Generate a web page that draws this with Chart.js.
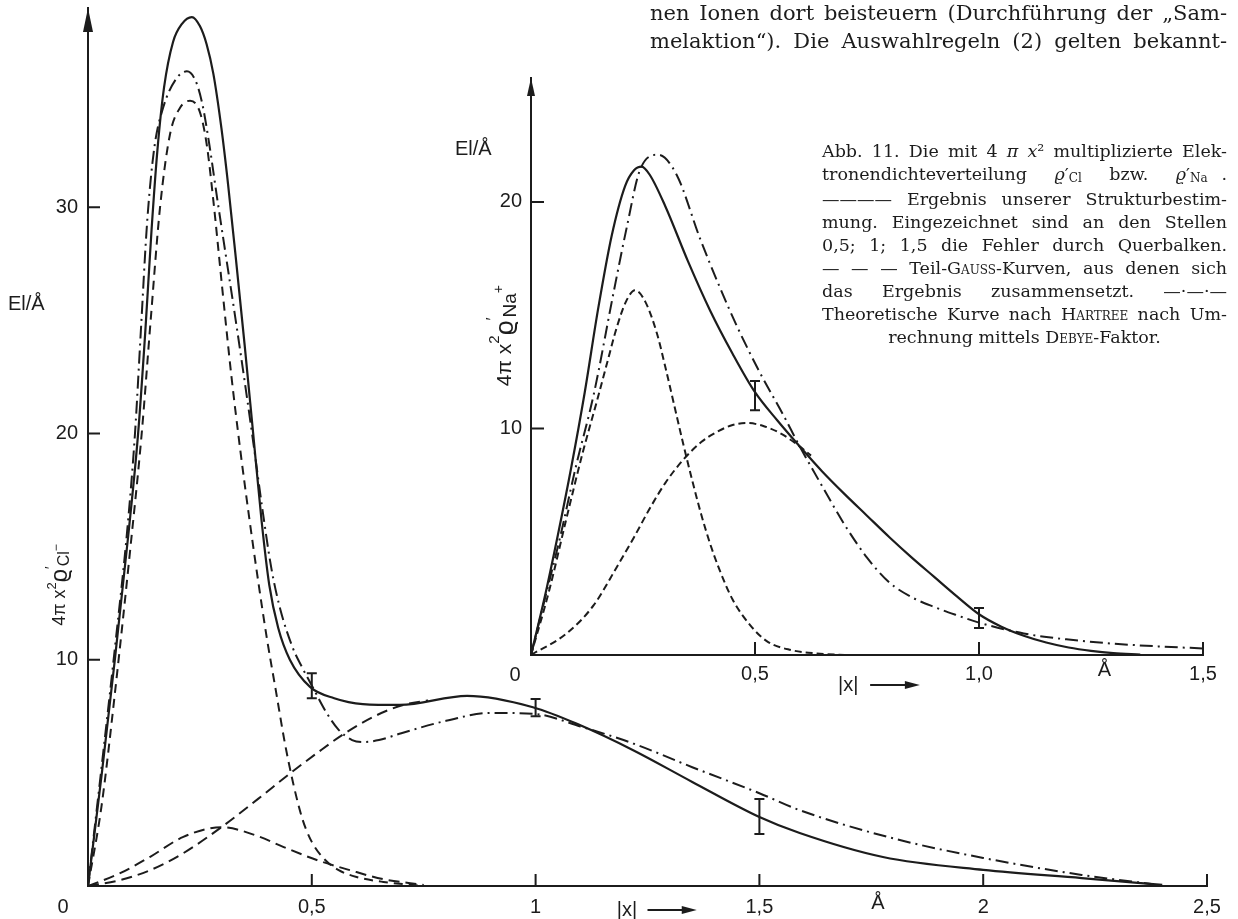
<!DOCTYPE html>
<html>
<head>
<meta charset="utf-8">
<script src="https://cdn.jsdelivr.net/npm/chart.js@4.4.0/dist/chart.umd.min.js"></script>
<style>
html, body { margin: 0; padding: 0; background: #fff; width: 1238px; height: 919px; overflow: hidden; }
#main { position: absolute; left: 0; top: 0; }
#inset { position: absolute; left: 431px; top: 60px; }
.txt { position: absolute; font-family: "DejaVu Serif", "Liberation Serif", serif; color: #1c1c1c; }
.txt div { text-align: justify; text-align-last: justify; white-space: nowrap; }
.sc { font-variant: small-caps; }
.sub { font-size: 12px; position: relative; top: 2px; }
</style>
</head>
<body>
<canvas id="main" width="1238" height="919"></canvas>
<canvas id="inset" width="800" height="640"></canvas>

<div class="txt" style="left:650px; top:-1px; width:577px; font-size:21px; line-height:28px;">
  <div>nen Ionen dort beisteuern (Durchführung der „Sam-</div>
  <div>melaktion“). Die Auswahlregeln (2) gelten bekannt-</div>
</div>

<div class="txt" style="left:822px; top:140px; width:405px; font-size:17.5px; line-height:23px;">
  <div>Abb. 11. Die mit 4 <i>π x</i>² multiplizierte Elek-</div>
  <div>tronendichteverteilung &nbsp;<i>ϱ</i>′<span class="sub">Cl</span> &nbsp;bzw. &nbsp;<i>ϱ</i>′<span class="sub">Na</span> .</div>
  <div>———— Ergebnis unserer Strukturbestim-</div>
  <div>mung. Eingezeichnet sind an den Stellen</div>
  <div>0,5; 1; 1,5 die Fehler durch Querbalken.</div>
  <div>— — — Teil-<span class="sc">Gauss</span>-Kurven, aus denen sich</div>
  <div>das Ergebnis zusammensetzt. —·—·—</div>
  <div>Theoretische Kurve nach <span class="sc">Hartree</span> nach Um-</div>
  <div style="text-align:center; text-align-last:center;">rechnung mittels <span class="sc">Debye</span>-Faktor.</div>
</div>

<script>
// ---- Cl- (large chart) ----
const clResultX = [0, 0.031, 0.06, 0.09, 0.112, 0.128, 0.142, 0.155, 0.17, 0.19, 0.21, 0.232, 0.25, 0.265, 0.28, 0.298, 0.313, 0.33, 0.35, 0.369, 0.388, 0.405, 0.425, 0.451, 0.496, 0.55, 0.614, 0.697, 0.847, 0.994, 1.1, 1.218, 1.35, 1.5, 1.59, 1.776, 2.0, 2.22, 2.4];
const clResultY = [0, 5, 10, 15.5, 20, 24.5, 29, 32.5, 35.3, 37.3, 38.1, 38.4, 38.0, 37.2, 35.9, 33.5, 31.0, 27.8, 23.9, 20.0, 16.1, 13.3, 11.4, 10.0, 8.8, 8.3, 8.04, 8.0, 8.4, 7.9, 7.1, 6.0, 4.6, 3.05, 2.34, 1.28, 0.71, 0.35, 0.05];

const clHartreeX = [0, 0.03, 0.06, 0.088, 0.105, 0.118, 0.132, 0.148, 0.168, 0.198, 0.221, 0.24, 0.255, 0.27, 0.29, 0.31, 0.33, 0.35, 0.37, 0.39, 0.41, 0.43, 0.458, 0.48, 0.503, 0.53, 0.56, 0.59, 0.614, 0.65, 0.7, 0.8, 0.9, 1.0, 1.1, 1.218, 1.35, 1.5, 1.59, 1.8, 2.0, 2.22, 2.38];
const clHartreeY = [0, 5.2, 10.5, 15.8, 20, 24.5, 29.3, 32.6, 34.4, 35.7, 36.0, 35.6, 34.6, 32.9, 30.2, 27.6, 25.0, 22.3, 19.5, 16.6, 14.0, 12.2, 10.5, 9.6, 8.75, 7.75, 6.9, 6.45, 6.36, 6.45, 6.75, 7.3, 7.65, 7.6, 7.05, 6.3, 5.25, 4.1, 3.35, 2.1, 1.24, 0.49, 0.08];

const clGaussAX = [0, 0.03, 0.06, 0.095, 0.12, 0.14, 0.161, 0.183, 0.206, 0.228, 0.25, 0.265, 0.28, 0.3, 0.32, 0.34, 0.36, 0.38, 0.4, 0.42, 0.44, 0.46, 0.48, 0.5, 0.53, 0.56, 0.6, 0.66, 0.75];
const clGaussAY = [0, 3.5, 8.5, 15, 20, 25, 30, 33.2, 34.4, 34.7, 34.2, 32.8, 30.3, 26.4, 22.6, 19.3, 16.3, 13.5, 10.9, 8.6, 6.3, 4.4, 2.9, 1.95, 1.15, 0.7, 0.4, 0.18, 0];

const clGaussBX = [0, 0.07, 0.139, 0.213, 0.298, 0.38, 0.436, 0.511, 0.585, 0.66, 0.75];
const clGaussBY = [0, 0.55, 1.29, 2.17, 2.6, 2.2, 1.73, 1.15, 0.7, 0.3, 0.05];

const clGaussCX = [0, 0.07, 0.139, 0.213, 0.298, 0.38, 0.451, 0.51, 0.57, 0.64, 0.704, 0.76];
const clGaussCY = [0, 0.25, 0.7, 1.45, 2.6, 3.85, 4.97, 5.85, 6.7, 7.5, 8.0, 8.2];

const clErrX = [0.5, 1, 1.5];
const clErrLow = [8.3, 7.5, 2.3];
const clErrHigh = [9.4, 8.26, 3.84];

const mainXTicks = [0.5, 1, 1.5, 2, 2.5];
const mainYTicks = [10, 20, 30];

// ---- Na+ (inset) ----
const naResultX = [0, 0.03, 0.06, 0.09, 0.12, 0.15, 0.18, 0.21, 0.23, 0.247, 0.265, 0.3, 0.35, 0.4, 0.45, 0.5, 0.55, 0.6, 0.65, 0.7, 0.75, 0.8, 0.85, 0.9, 0.95, 1.0, 1.05, 1.1, 1.15, 1.2, 1.25, 1.3, 1.36];
const naResultY = [0, 2.5, 5.3, 8.3, 11.6, 15.3, 18.5, 20.7, 21.4, 21.56, 21.2, 19.8, 17.4, 15.2, 13.3, 11.6, 10.35, 9.2, 8.1, 7.1, 6.15, 5.2, 4.3, 3.45, 2.6, 1.8, 1.25, 0.85, 0.55, 0.33, 0.18, 0.08, 0.02];

const naHartreeX = [0, 0.03, 0.065, 0.1, 0.14, 0.184, 0.214, 0.243, 0.284, 0.325, 0.377, 0.42, 0.46, 0.51, 0.563, 0.6, 0.65, 0.7, 0.75, 0.8, 0.85, 0.9, 0.95, 1.0, 1.1, 1.2, 1.3, 1.4, 1.5];
const naHartreeY = [0, 2.4, 5.2, 8.3, 11.5, 15.97, 18.9, 21.4, 22.08, 21.2, 18.4, 16.3, 14.5, 12.5, 10.6, 9.2, 7.45, 5.75, 4.3, 3.2, 2.55, 2.12, 1.76, 1.43, 0.95, 0.68, 0.5, 0.38, 0.29];

const naGaussAX = [0, 0.04, 0.08, 0.115, 0.147, 0.17, 0.192, 0.212, 0.232, 0.255, 0.281, 0.3, 0.32, 0.34, 0.36, 0.38, 0.4, 0.42, 0.45, 0.49, 0.527, 0.58, 0.638, 0.7];
const naGaussAY = [0, 2.8, 6.1, 8.9, 11.2, 12.9, 14.5, 15.6, 16.1, 15.6, 14.2, 12.7, 11.0, 9.3, 7.7, 6.2, 4.9, 3.8, 2.45, 1.3, 0.6, 0.22, 0.07, 0];

const naGaussBX = [0, 0.08, 0.14, 0.192, 0.23, 0.266, 0.3, 0.339, 0.38, 0.415, 0.45, 0.482, 0.52, 0.56, 0.6, 0.625];
const naGaussBY = [0, 0.96, 2.2, 3.9, 5.2, 6.5, 7.6, 8.6, 9.4, 9.85, 10.15, 10.24, 10.1, 9.75, 9.2, 8.8];

const naErrX = [0.5, 1.0];
const naErrLow = [10.8, 1.19];
const naErrHigh = [12.1, 2.07];

const insetXTicks = [0.5, 1.0, 1.5];
const insetYTicks = [10, 20];

const INK = '#1c1c1c';
const LETTER = '"Liberation Sans", Arial, sans-serif';
Chart.defaults.font.family = LETTER;
Chart.defaults.color = INK;

const pts = (xs, ys) => xs.map((x, i) => ({ x: x, y: ys[i] }));

function curve(xs, ys, dash, width) {
    return {
        data: pts(xs, ys),
        showLine: true,
        borderColor: INK,
        borderWidth: width || 2,
        borderDash: dash || [],
        pointRadius: 0,
        cubicInterpolationMode: 'monotone',
        fill: false,
    };
}

// rotated formula label, parts = [text, size, dy]
function richVertical(ctx, cx, cy, parts) {
    ctx.save();
    ctx.translate(cx, cy);
    ctx.rotate(-Math.PI / 2);
    ctx.textBaseline = 'middle';
    ctx.textAlign = 'left';
    let w = 0;
    parts.forEach(p => { ctx.font = p[1] + 'px ' + LETTER; w += ctx.measureText(p[0]).width; });
    let xx = -w / 2;
    parts.forEach(p => {
        ctx.font = p[1] + 'px ' + LETTER;
        ctx.fillText(p[0], xx, p[2]);
        xx += ctx.measureText(p[0]).width;
    });
    ctx.restore();
}

function arrowRight(ctx, x1, x2, yy) {
    ctx.beginPath();
    ctx.moveTo(x1, yy);
    ctx.lineTo(x2 - 12, yy);
    ctx.stroke();
    ctx.beginPath();
    ctx.moveTo(x2, yy);
    ctx.lineTo(x2 - 15, yy - 4);
    ctx.lineTo(x2 - 15, yy + 4);
    ctx.closePath();
    ctx.fill();
}

// ticks inside the axes, y arrow, error bars and loose labels
function decor(o) {
    return {
        id: 'decor',
        afterDatasetsDraw(chart) {
            const { ctx, chartArea: a, scales: { x, y } } = chart;
            ctx.save();
            ctx.strokeStyle = INK;
            ctx.fillStyle = INK;
            ctx.lineWidth = 2;

            ctx.beginPath();
            x.ticks.forEach(t => {
                const px = x.getPixelForValue(t.value);
                ctx.moveTo(px, a.bottom);
                ctx.lineTo(px, a.bottom - o.tick);
            });
            y.ticks.forEach(t => {
                const py = y.getPixelForValue(t.value);
                ctx.moveTo(a.left - 1, py);
                ctx.lineTo(a.left + o.tick, py);
            });
            ctx.stroke();

            ctx.beginPath();
            ctx.moveTo(a.left, a.top);
            ctx.lineTo(a.left - o.aw, a.top + o.al);
            ctx.lineTo(a.left + o.aw, a.top + o.al);
            ctx.closePath();
            ctx.fill();

            o.errX.forEach((v, i) => {
                const px = x.getPixelForValue(v);
                const lo = y.getPixelForValue(o.errLow[i]);
                const hi = y.getPixelForValue(o.errHigh[i]);
                ctx.beginPath();
                ctx.moveTo(px, lo); ctx.lineTo(px, hi);
                ctx.moveTo(px - 5, lo); ctx.lineTo(px + 5, lo);
                ctx.moveTo(px - 5, hi); ctx.lineTo(px + 5, hi);
                ctx.stroke();
            });

            ctx.font = '20px ' + LETTER;
            ctx.textBaseline = 'middle';
            ctx.textAlign = 'center';
            ctx.fillText('0', a.left + o.zeroDx, a.bottom + o.zeroDy);
            ctx.fillText('Å', x.getPixelForValue(o.unitX), a.bottom + o.unitDy);
            ctx.textAlign = 'left';
            ctx.fillText('El/Å', a.left + o.elDx, y.getPixelForValue(o.elY));
            ctx.textAlign = 'center';
            ctx.fillText('|x|', x.getPixelForValue(o.absX), a.bottom + o.absDy);
            arrowRight(ctx, x.getPixelForValue(o.arrow[0]), x.getPixelForValue(o.arrow[1]), a.bottom + o.absDy);

            richVertical(ctx, a.left + o.rotDx, y.getPixelForValue(o.rotY), o.rot);
            ctx.restore();
        }
    };
}

function scalesFor(xMax, yMax, xTicks, yTicks, xLabel, yWidth, xHeight, xPad, yPad) {
    return {
        x: {
            type: 'linear', min: 0, max: xMax,
            afterBuildTicks: s => { s.ticks = xTicks.map(v => ({ value: v })); },
            afterFit: s => { s.height = xHeight; s.paddingLeft = 0; s.paddingRight = 0; },
            grid: { display: false, drawTicks: false },
            border: { display: true, color: INK, width: 2 },
            ticks: { padding: xPad, color: INK, font: { size: 20 }, maxRotation: 0, autoSkip: false, callback: xLabel },
        },
        y: {
            type: 'linear', min: 0, max: yMax,
            afterBuildTicks: s => { s.ticks = yTicks.map(v => ({ value: v })); },
            afterFit: s => { s.width = yWidth; s.paddingTop = 0; s.paddingBottom = 0; },
            grid: { display: false, drawTicks: false },
            border: { display: true, color: INK, width: 2 },
            ticks: { padding: yPad, color: INK, font: { size: 20 }, callback: v => String(v) },
        }
    };
}

// Large chart: Cl-
new Chart(document.getElementById('main'), {
    type: 'scatter',
    data: {
        datasets: [
            curve(clResultX, clResultY, [], 2.2),
            curve(clHartreeX, clHartreeY, [13, 5, 2, 5], 2),
            curve(clGaussAX, clGaussAY, [9, 6], 2),
            curve(clGaussBX, clGaussBY, [11, 6], 2),
            curve(clGaussCX, clGaussCY, [11, 6], 2),
        ]
    },
    options: {
        responsive: false,
        animation: false,
        events: [],
        layout: { padding: { left: 0, top: 8, right: 31, bottom: 0 } },
        plugins: { legend: { display: false }, tooltip: { enabled: false } },
        scales: scalesFor(2.5, 38.8, mainXTicks, mainYTicks, v => String(v).replace('.', ','), 88, 33, 9, 10),
    },
    plugins: [decor({
        tick: 12, aw: 5, al: 24,
        errX: clErrX, errLow: clErrLow, errHigh: clErrHigh,
        zeroDx: -25, zeroDy: 21, unitX: 1.765, unitDy: 17,
        elDx: -80, elY: 25.7, absX: 1.204, absDy: 24, arrow: [1.25, 1.36],
        rotDx: -28, rotY: 13.3,
        rot: [['4π x', 18, 0], ['2', 13, -8], ['ϱ', 23, 1], ['′', 14, -9], ['Cl', 16, 5], ['−', 12, -3]],
    })]
});

// Inset: Na+
new Chart(document.getElementById('inset'), {
    type: 'scatter',
    data: {
        datasets: [
            curve(naResultX, naResultY, [], 2.2),
            curve(naHartreeX, naHartreeY, [13, 5, 2, 5], 2),
            curve(naGaussAX, naGaussAY, [7, 4], 2),
            curve(naGaussBX, naGaussBY, [7, 4], 2),
        ]
    },
    options: {
        responsive: false,
        animation: false,
        events: [],
        layout: { padding: { left: 0, top: 18, right: 28, bottom: 0 } },
        plugins: { legend: { display: false }, tooltip: { enabled: false } },
        scales: scalesFor(1.5, 25.47, insetXTicks, insetYTicks, v => v.toFixed(1).replace('.', ','), 100, 45, 7, 9),
    },
    plugins: [decor({
        tick: 13, aw: 4, al: 18,
        errX: naErrX, errLow: naErrLow, errHigh: naErrHigh,
        zeroDx: -16, zeroDy: 20, unitX: 1.28, unitDy: 15,
        elDx: -76, elY: 22.3, absX: 0.708, absDy: 30, arrow: [0.757, 0.868],
        rotDx: -26, rotY: 14.1,
        rot: [['4π x', 21, 0], ['2', 15, -10], ['ϱ', 26, 1], ['′', 16, -11], ['Na', 19, 6], ['+', 14, -6]],
    })]
});
</script>
</body>
</html>
